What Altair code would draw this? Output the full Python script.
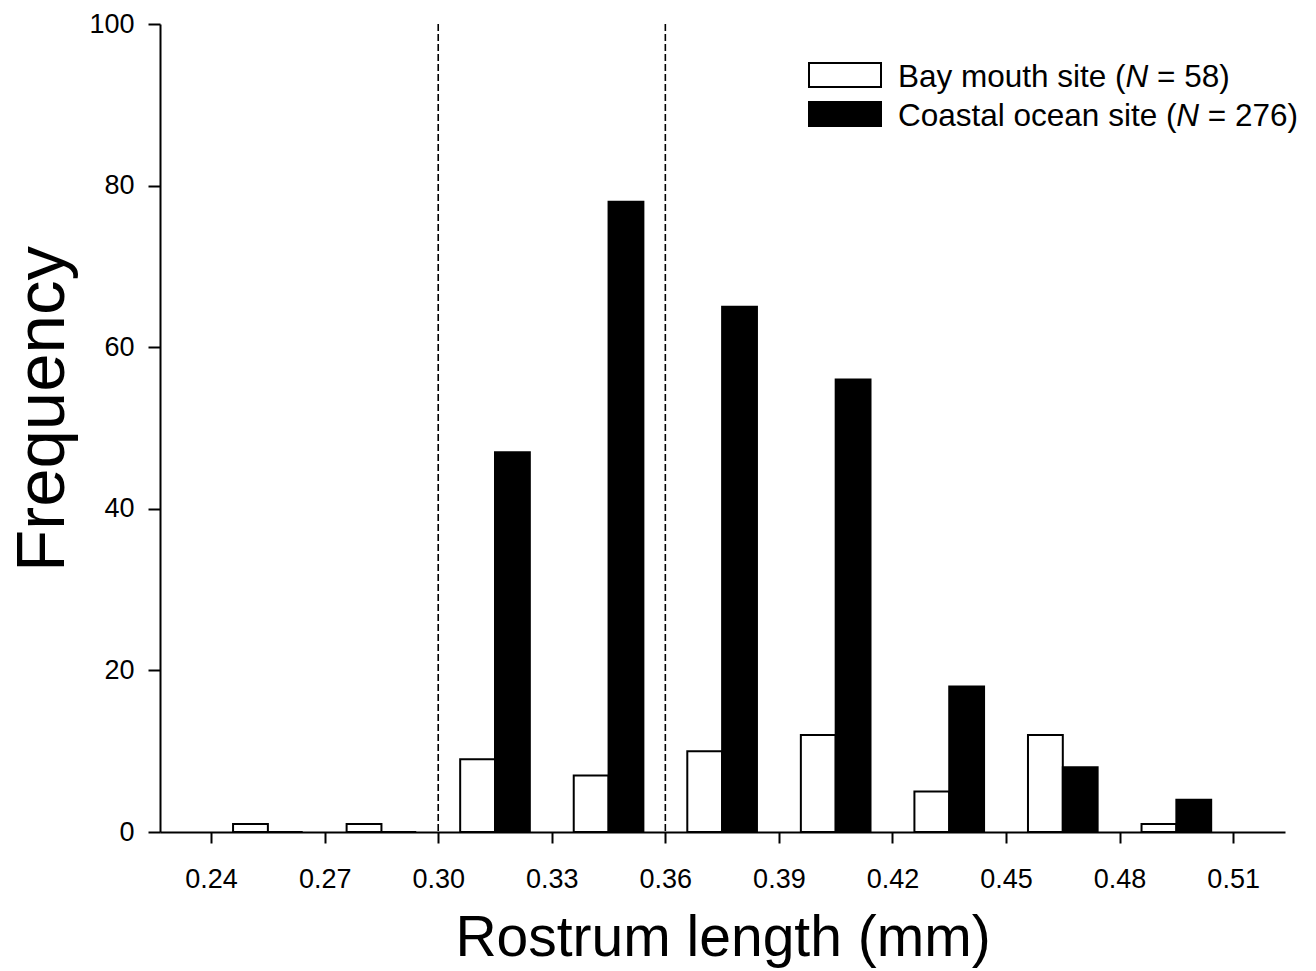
import altair as alt
import pandas as pd

# ---- data ----
bin_centers = [0.255, 0.285, 0.315, 0.345, 0.375, 0.405, 0.435, 0.465, 0.495]
bay_counts = [1, 1, 9, 7, 10, 12, 5, 12, 1]
coastal_counts = [0, 0, 47, 78, 65, 56, 18, 8, 4]
x_ticks = [0.24, 0.27, 0.30, 0.33, 0.36, 0.39, 0.42, 0.45, 0.48, 0.51]
y_ticks = [0, 20, 40, 60, 80, 100]
cutoffs = [0.30, 0.36]
series = ["Bay mouth site", "Coastal ocean site"]
series_n = [58, 276]
series_fill = ["white", "black"]

FONT = "Liberation Sans"
BAR_W = 0.0092
PAD_L, PAD_T = 160, 24

rows = []
for c, b, k in zip(bin_centers, bay_counts, coastal_counts):
    rows.append(dict(series=series[0], x0=c - BAR_W, x1=c, count=b, base=0))
    rows.append(dict(series=series[1], x0=c, x1=c + BAR_W, count=k, base=0))
df = pd.DataFrame(rows)

xscale = alt.Scale(domain=[0.2265, 0.5237], nice=False, zero=False)
yscale = alt.Scale(domain=[0, 100], nice=False)

bars = alt.Chart(df).mark_rect(stroke="black", strokeWidth=2).encode(
    x=alt.X(
        "x0:Q",
        scale=xscale,
        axis=alt.Axis(
            values=x_ticks,
            format=".2f",
            title="Rostrum length (mm)",
            titleFontSize=57,
            titleY=123,
            titleBaseline="alphabetic",
            labelFontSize=27,
            labelBaseline="alphabetic",
            labelPadding=44,
            tickSize=11,
            labelFlush=False,
            labelOverlap=False,
        ),
    ),
    x2="x1:Q",
    y=alt.Y(
        "count:Q",
        scale=yscale,
        axis=alt.Axis(
            values=y_ticks,
            title="Frequency",
            titleFontSize=69,
            titleX=-97,
            titleY=384.5,
            titleAngle=270,
            titleAlign="center",
            titleBaseline="alphabetic",
            labelFontSize=27,
            labelPadding=14,
            tickSize=12,
        ),
    ),
    y2="base:Q",
    fill=alt.Fill("series:N", scale=alt.Scale(domain=series, range=series_fill), legend=None),
)

rules = alt.Chart(pd.DataFrame({"x": cutoffs, "top": [100] * len(cutoffs), "bottom": [0] * len(cutoffs)})).mark_rule(
    color="black", strokeWidth=1.6, strokeDash=[7, 3]
).encode(x="x:Q", y="top:Q", y2="bottom:Q")

layers = [bars, rules]

# ---- manual legend (italic N); pixel positions relative to the plot origin ----
LEG_FS = 31.5
LEG_X0 = 898 - PAD_L
prefix_em = [7.225, 8.837]  # advance widths (em) of the text before "N"
N_EM = 0.722
SPACE_EM = 0.278
for i, (name, n, fillc) in enumerate(zip(series, series_n, series_fill)):
    top = 63 + 39 * i - PAD_T
    baseline = 87 + 39 * i - PAD_T
    one = pd.DataFrame({"t": [0]})
    sym = alt.Chart(one).mark_rect(fill=fillc, stroke="black", strokeWidth=2).encode(
        x=alt.value(809 - PAD_L), x2=alt.value(881 - PAD_L), y=alt.value(top), y2=alt.value(top + 24)
    )
    parts = [
        (f"{name} (", LEG_X0, "normal"),
        ("N", LEG_X0 + prefix_em[i] * LEG_FS, "italic"),
        (f"= {n})", LEG_X0 + (prefix_em[i] + N_EM + SPACE_EM) * LEG_FS, "normal"),
    ]
    layers.append(sym)
    for txt, xpos, style in parts:
        layers.append(
            alt.Chart(pd.DataFrame({"t": [txt]}))
            .mark_text(
                font=FONT, fontSize=LEG_FS, fontStyle=style, align="left",
                baseline="alphabetic", color="black",
            )
            .encode(x=alt.value(xpos), y=alt.value(baseline), text="t:N")
        )

chart = (
    alt.layer(*layers)
    .properties(
        width=1125,
        height=808,
        padding={"left": PAD_L, "top": PAD_T, "right": 31, "bottom": 139},
        autosize=alt.AutoSizeParams(type="none"),
        background="white",
    )
    .configure_view(stroke=None)
    .configure_axis(
        grid=False,
        domainColor="black",
        domainWidth=2,
        tickColor="black",
        tickWidth=2,
        labelColor="black",
        titleColor="black",
        labelFont=FONT,
        titleFont=FONT,
        titleFontWeight="normal",
    )
)

chart.save("out.html", embed_options={"renderer": "svg", "actions": False})
